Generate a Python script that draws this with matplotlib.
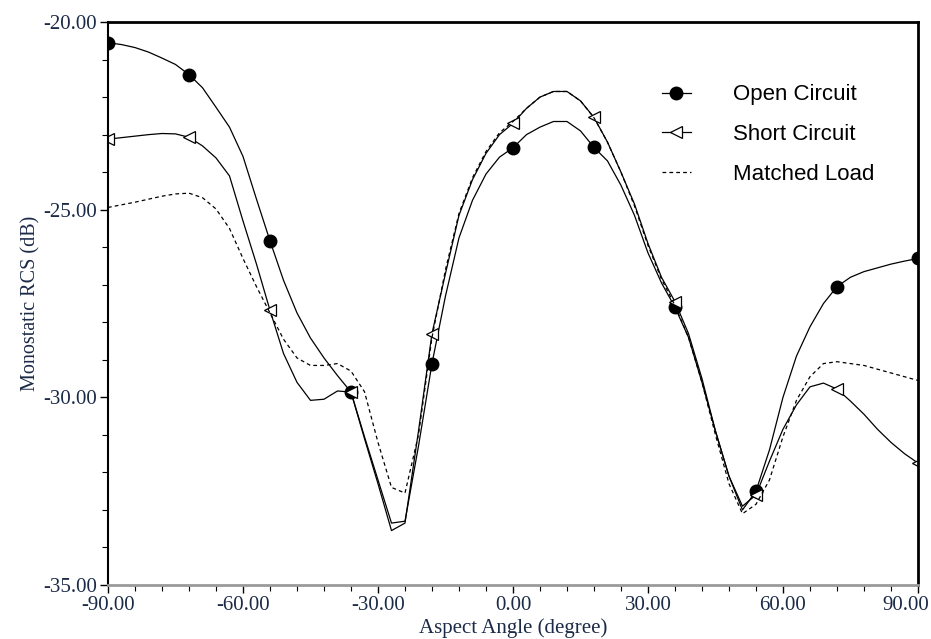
import numpy as np
import matplotlib
matplotlib.use("Agg")
import matplotlib.pyplot as plt
from matplotlib.ticker import MultipleLocator, FuncFormatter

# aspect angle grid (deg), one sample every 3 degrees
angle = np.arange(-90, 91, 3)

open_circuit = [
    -20.55, -20.60, -20.68, -20.80, -20.96, -21.13, -21.40, -21.75, -22.27, -22.80,
    -23.58, -24.72, -25.83, -26.88, -27.75, -28.42, -28.95, -29.42, -29.86, -31.05,
    -32.20, -33.35, -33.30, -31.30, -29.10, -27.30, -25.75, -24.75, -24.05, -23.60,
    -23.35, -23.00, -22.80, -22.65, -22.65, -22.90, -23.34, -23.70, -24.35, -25.15,
    -26.15, -26.95, -27.60, -28.40, -29.60, -30.90, -32.10, -33.00, -32.50, -31.40,
    -30.00, -28.90, -28.12, -27.50, -27.05, -26.80, -26.65, -26.55, -26.45, -26.37,
    -26.30]

short_circuit = [
    -23.12, -23.08, -23.04, -23.00, -22.97, -22.98, -23.07, -23.30, -23.62, -24.10,
    -25.30, -26.45, -27.68, -28.83, -29.60, -30.08, -30.05, -29.83, -29.86, -31.10,
    -32.30, -33.55, -33.35, -30.90, -28.30, -26.70, -25.15, -24.20, -23.50, -23.00,
    -22.70, -22.30, -22.00, -21.85, -21.85, -22.10, -22.54, -23.20, -24.00, -24.85,
    -25.90, -26.80, -27.45, -28.30, -29.50, -30.90, -32.10, -32.90, -32.60, -31.70,
    -30.85, -30.20, -29.72, -29.62, -29.78, -30.10, -30.45, -30.85, -31.20, -31.50,
    -31.75]

matched_load = [
    -24.94, -24.87, -24.80, -24.72, -24.64, -24.58, -24.56, -24.68, -24.98, -25.50,
    -26.30, -27.05, -27.75, -28.45, -28.95, -29.15, -29.15, -29.10, -29.30, -29.85,
    -31.20, -32.40, -32.55, -31.00, -28.40, -26.60, -25.10, -24.15, -23.45, -22.95,
    -22.65, -22.30, -22.00, -21.85, -21.85, -22.10, -22.55, -23.20, -24.00, -24.90,
    -25.95, -26.85, -27.55, -28.40, -29.60, -31.00, -32.30, -33.10, -32.85, -32.20,
    -31.05, -30.08, -29.45, -29.10, -29.05, -29.10, -29.15, -29.25, -29.35, -29.45,
    -29.55]

txt = '#1b2a47'
serif = ['Liberation Serif', 'DejaVu Serif']

fig = plt.figure(figsize=(9.31, 6.39), dpi=100)
ax = fig.add_axes([0.116, 0.0845, 0.87, 0.881])

ax.plot(angle, open_circuit, color='black', lw=0.9, marker='o', ms=9,
        markevery=6, mfc='black', mec='black', label='Open Circuit')
ax.plot(angle, short_circuit, color='black', lw=0.9, marker='<', ms=9,
        markevery=6, mfc='white', mec='black', mew=0.9, label='Short Circuit')
ax.plot(angle, matched_load, color='black', lw=0.9, ls=(0, (3, 2.5)),
        label='Matched Load')

ax.set_xlim(-90, 90)
ax.set_ylim(-35, -20)
ax.xaxis.set_major_locator(MultipleLocator(30))
ax.xaxis.set_minor_locator(MultipleLocator(6))
ax.yaxis.set_major_locator(MultipleLocator(5))
ax.yaxis.set_minor_locator(MultipleLocator(1))
# the 90.00 label is drawn separately so it stays inside the figure
ax.xaxis.set_major_formatter(FuncFormatter(lambda v, p: '' if v >= 90 else '%.2f' % v))
ax.yaxis.set_major_formatter(FuncFormatter(lambda v, p: '%.2f' % v))
ax.tick_params(which='major', direction='out', length=6, width=1, color='black',
               labelsize=15, labelcolor=txt, pad=2)
ax.tick_params(which='minor', direction='out', length=4, width=0.8, color='black')
for lab in ax.get_xticklabels() + ax.get_yticklabels():
    lab.set_family(serif)
ax.annotate('%.2f' % angle[-1], xy=(angle[-1], 0), xycoords=('data', 'axes fraction'),
            xytext=(8, -8), textcoords='offset points', ha='right', va='top',
            fontsize=15, family=serif, color=txt, annotation_clip=False)

ax.spines['top'].set_linewidth(2)
ax.spines['right'].set_linewidth(2)
ax.spines['left'].set_linewidth(1.5)
ax.spines['bottom'].set_linewidth(2)
ax.spines['bottom'].set_color('#9a9a9a')

ax.set_xlabel('Aspect Angle (degree)', family=serif, fontsize=15, color=txt, labelpad=2)
ax.set_ylabel('Monostatic RCS (dB)', family=serif, fontsize=14.5, color=txt, labelpad=2)

leg = fig.legend(loc='upper left', bbox_to_anchor=(0.711, 0.868), frameon=False,
                 prop={'family': ['Liberation Sans', 'DejaVu Sans'], 'size': 16},
                 handlelength=1.3, handletextpad=1.9, labelspacing=0.85,
                 borderpad=0, borderaxespad=0)

fig.savefig('out.png', dpi=100, facecolor='white')
